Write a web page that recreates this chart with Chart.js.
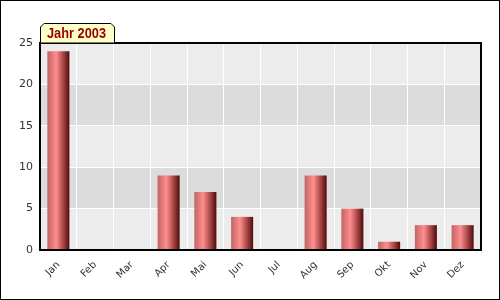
<!DOCTYPE html>
<html>
<head>
<meta charset="utf-8">
<script src="https://cdn.jsdelivr.net/npm/chart.js@4"></script>
<style>
  html, body { margin: 0; padding: 0; background: #fff; }
  #wrap { width: 500px; height: 300px; position: relative; }
</style>
</head>
<body>
<div id="wrap"><canvas id="chart" width="500" height="300"></canvas></div>
<script>
// Monatswerte
const months = ["Jan", "Feb", "Mar", "Apr", "Mai", "Jun", "Jul", "Aug", "Sep", "Okt", "Nov", "Dez"];
const values = [24, 0, 0, 9, 7, 4, 0, 9, 5, 1, 3, 3];
const yTicks = [0, 5, 10, 15, 20, 25];
const titleText = "Jahr 2003";
const barPct = 0.6;

// Zylinder-Verlauf pro Balken
function barGradient(context) {
  const chart = context.chart;
  const x = chart.scales.x;
  if (!x || !chart.chartArea) return "#d07070";
  const step = x.getPixelForValue(1) - x.getPixelForValue(0);
  const cx = x.getPixelForValue(context.dataIndex);
  const l = cx - step * barPct / 2, r = cx + step * barPct / 2;
  const g = chart.ctx.createLinearGradient(l, 0, r, 0);
  g.addColorStop(0, "#c26464");
  g.addColorStop(0.4, "#ff8e8e");
  g.addColorStop(0.75, "#a04040");
  g.addColorStop(1, "#4e0a0a");
  return g;
}

// Hintergrund-Streifen, Rahmen und Titel-Reiter
const decor = {
  id: "decor",
  beforeDraw(chart) {
    const { ctx, chartArea: a, scales: { y } } = chart;
    ctx.save();
    ctx.fillStyle = "#fff";
    ctx.fillRect(0, 0, chart.width, chart.height);
    for (let i = 0; i < yTicks.length - 1; i++) {
      const top = y.getPixelForValue(yTicks[i + 1]);
      const bot = y.getPixelForValue(yTicks[i]);
      ctx.fillStyle = i % 2 === 0 ? "#ececec" : "#dcdcdc";
      ctx.fillRect(a.left, top, a.right - a.left, bot - top);
    }
    ctx.restore();
  },
  afterDraw(chart) {
    const { ctx, chartArea: a } = chart;
    ctx.save();
    ctx.strokeStyle = "#000";
    ctx.lineWidth = 2;
    ctx.strokeRect(a.left, a.top, a.right - a.left, a.bottom - a.top);
    ctx.lineWidth = 1;
    ctx.strokeRect(0.5, 0.5, chart.width - 1, chart.height - 1);

    // Titel-Reiter
    const x0 = a.left, x1 = a.left + 75, y0 = a.top - 20, y1 = a.top, c = 4;
    ctx.beginPath();
    ctx.moveTo(x0 + 0.5, y1);
    ctx.lineTo(x0 + 0.5, y0 + c);
    ctx.lineTo(x0 + c, y0 + 0.5);
    ctx.lineTo(x1 - c, y0 + 0.5);
    ctx.lineTo(x1 - 0.5, y0 + c);
    ctx.lineTo(x1 - 0.5, y1);
    ctx.closePath();
    ctx.fillStyle = "#ffffcc";
    ctx.fill();
    ctx.stroke();
    ctx.fillStyle = "#990000";
    ctx.font = "bold 14px 'Liberation Sans', Arial, sans-serif";
    ctx.textBaseline = "alphabetic";
    ctx.textAlign = "left";
    const w = ctx.measureText(titleText).width;
    const sx = 59 / w;
    ctx.translate(x0 + 7, y0 + 15);
    ctx.scale(sx, 1);
    ctx.fillText(titleText, 0, 0);
    ctx.restore();
  }
};

new Chart(document.getElementById("chart"), {
  type: "bar",
  data: {
    labels: months,
    datasets: [{
      data: values,
      backgroundColor: barGradient,
      borderWidth: 0,
      barPercentage: barPct,
      categoryPercentage: 1.0
    }]
  },
  options: {
    responsive: false,
    animation: false,
    layout: { padding: { top: 43, right: 19, left: 0, bottom: 0 } },
    plugins: { legend: { display: false }, tooltip: { enabled: false } },
    scales: {
      x: {
        grid: { color: "#ffffff", lineWidth: 1, drawTicks: false },
        border: { display: false },
        ticks: {
          color: "#333",
          font: { family: "'DejaVu Sans', sans-serif", size: 10 },
          minRotation: 45, maxRotation: 45,
          padding: 9
        },
        afterFit(scale) { scale.height = 50; }
      },
      y: {
        min: 0, max: 25,
        grid: { color: "#ffffff", lineWidth: 1, drawTicks: false },
        border: { display: false },
        ticks: {
          stepSize: 5,
          color: "#333",
          font: { family: "'DejaVu Sans', sans-serif", size: 11 },
          padding: 7
        },
        afterFit(scale) { scale.width = 40; }
      }
    }
  },
  plugins: [decor]
});
</script>
</body>
</html>
